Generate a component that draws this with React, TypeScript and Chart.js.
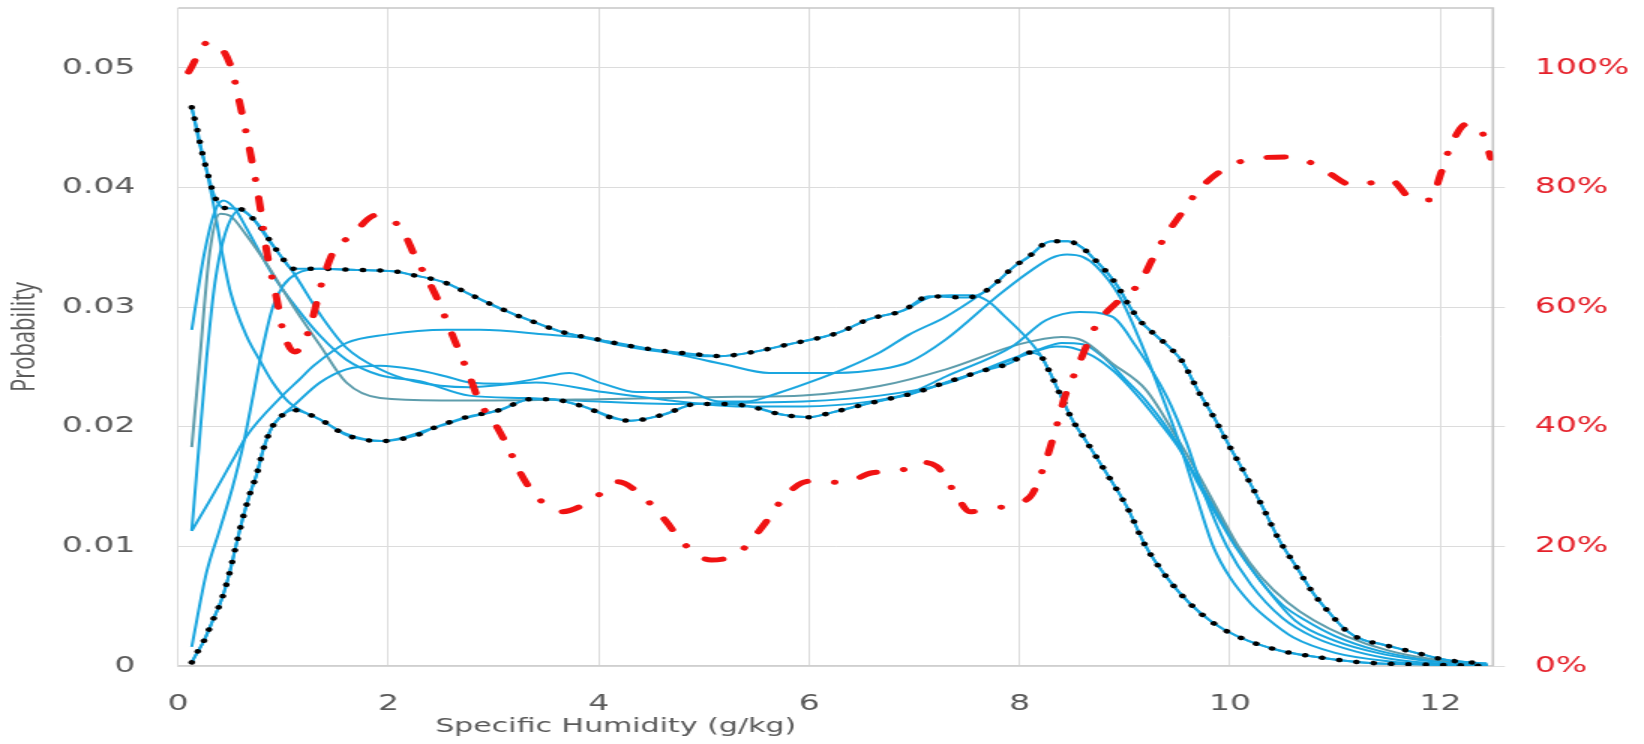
import { useEffect, useRef } from "react";
import { Chart, registerables } from "chart.js";

Chart.register(...registerables);

// ---------- data (x = specific humidity g/kg, y = probability) ----------
const C1_X = [0.13,0.2,0.26,0.3,0.35,0.42,0.5,0.65,0.78,0.9,1.06,1.35,1.6,1.94,2.43,2.77,3.06,3.35,3.53,3.85,4.3,4.61,4.93,5.24,5.5,5.75,6.0,6.22,6.54,6.99,7.3,7.62,7.93,8.15,8.35,8.5,8.7,8.9,9.1,9.3,9.5,9.7,9.9,10.1,10.3,10.5,10.72,11.0,11.4,11.8,12.2,12.45];
const C1_Y = [0.0467,0.0438,0.0418,0.0402,0.0380,0.0345,0.0312,0.0276,0.0255,0.0237,0.0220,0.0206,0.0194,0.0188,0.0199,0.0208,0.0214,0.0223,0.0223,0.0217,0.0205,0.0210,0.0219,0.0219,0.0216,0.0210,0.0208,0.0212,0.0219,0.0228,0.0237,0.0246,0.0256,0.0263,0.0267,0.0266,0.0259,0.0246,0.0228,0.0207,0.0184,0.0155,0.0125,0.0095,0.0070,0.0051,0.0038,0.0025,0.0013,0.0006,0.0002,0.0001];

const C2_X = [0.13,0.25,0.35,0.43,0.55,0.65,0.9,1.13,1.35,1.6,1.92,2.3,2.77,3.3,4.0,4.67,5.3,5.94,6.67,7.3,7.9,8.2,8.4,8.6,8.8,9.0,9.2,9.5,9.7,9.9,10.05,10.3,10.62,11.0,11.4,11.8,12.2,12.45];
const C2_Y = [0.0281,0.0345,0.0380,0.0389,0.0381,0.0366,0.0327,0.0299,0.0276,0.0256,0.0243,0.0238,0.0226,0.0224,0.0221,0.0219,0.0220,0.0221,0.0226,0.0236,0.0256,0.0265,0.0270,0.0269,0.0258,0.0240,0.0222,0.0186,0.0152,0.0122,0.0100,0.0070,0.0038,0.0021,0.0011,0.0005,0.0002,0.0001];

const C3_X = [0.13,0.2,0.3,0.4,0.5,0.65,0.85,1.1,1.35,1.6,1.92,2.5,3.0,4.0,4.67,5.3,5.94,6.67,7.3,8.0,8.4,8.6,8.88,9.2,9.5,9.7,9.9,10.08,10.3,10.55,10.8,11.1,11.5,11.9,12.45];
const C3_Y = [0.0183,0.0250,0.0345,0.0378,0.0376,0.0360,0.0335,0.0300,0.0268,0.0237,0.0224,0.0222,0.0222,0.0223,0.0224,0.0225,0.0226,0.0234,0.0248,0.0269,0.0275,0.0272,0.0253,0.0231,0.0190,0.0160,0.0128,0.0100,0.0074,0.0053,0.0038,0.0025,0.0013,0.0006,0.0001];

const C4_X = [0.13,0.2,0.27,0.35,0.45,0.59,0.7,0.86,1.0,1.08,1.35,1.6,1.92,2.24,2.77,3.4,4.04,4.67,5.31,5.94,6.57,6.95,7.3,7.93,8.25,8.57,8.88,9.1,9.4,9.59,9.75,9.97,10.2,10.5,10.8,11.2,11.6,12.0,12.45];
const C4_Y = [0.0113,0.0185,0.0256,0.0320,0.0362,0.0381,0.0375,0.0356,0.0340,0.0331,0.0294,0.0266,0.0248,0.0238,0.0233,0.0237,0.0229,0.0222,0.0217,0.0217,0.0221,0.0228,0.0242,0.0267,0.0289,0.0296,0.0292,0.0268,0.0225,0.0186,0.0145,0.0100,0.0068,0.0040,0.0024,0.0012,0.0005,0.0002,0.0001];

const C5_X = [0.13,0.3,0.52,0.65,0.97,1.16,1.29,1.6,1.98,2.55,2.87,3.5,3.97,4.36,4.83,5.2,5.62,6.26,6.67,6.95,7.3,7.8,8.1,8.3,8.45,8.6,8.73,8.95,9.14,9.33,9.52,9.68,9.84,10.0,10.2,10.35,10.6,11.0,11.5,12.0,12.45];
const C5_Y = [0.0113,0.0138,0.0172,0.0192,0.0224,0.0240,0.0251,0.0270,0.0277,0.0281,0.0281,0.0277,0.0273,0.0267,0.0259,0.0252,0.0245,0.0245,0.0248,0.0254,0.0273,0.0310,0.0330,0.0341,0.0344,0.0342,0.0334,0.0309,0.0273,0.0231,0.0186,0.0142,0.0100,0.0074,0.0052,0.0040,0.0024,0.0011,0.0004,0.0001,0.0];

const C6_X = [0.13,0.27,0.4,0.52,0.62,0.7,0.78,0.9,1.0,1.13,1.35,1.7,2.05,2.22,2.52,2.79,3.06,3.37,3.66,3.99,4.33,4.65,4.99,5.15,5.5,5.81,6.13,6.29,6.57,6.89,7.14,7.35,7.55,7.7,7.85,8.07,8.19,8.29,8.38,8.5,8.64,8.82,9.02,9.2,9.4,9.61,9.84,10.09,10.47,10.79,11.26,12.0,12.45];
const C6_Y = [0.0016,0.0078,0.0115,0.0150,0.0185,0.0220,0.0256,0.0300,0.0318,0.0328,0.0332,0.0331,0.0330,0.0327,0.0321,0.0310,0.0299,0.0288,0.0279,0.0272,0.0266,0.0262,0.0259,0.0259,0.0263,0.0269,0.0275,0.0279,0.0290,0.0297,0.0308,0.0310,0.0310,0.0305,0.0293,0.0274,0.0261,0.0245,0.0228,0.0206,0.0187,0.0162,0.0133,0.0100,0.0074,0.0053,0.0036,0.0024,0.0013,0.0008,0.0003,0.0001,0.0];

const C7_X = [0.13,0.18,0.24,0.33,0.42,0.49,0.56,0.62,0.68,0.75,0.81,0.89,0.97,1.09,1.35,1.6,1.92,2.24,2.55,2.77,3.09,3.4,3.72,4.04,4.36,4.83,5.15,5.4,5.7,6.0,6.35,6.67,6.95,7.3,7.62,7.76,7.95,8.07,8.3,8.46,8.59,8.7,8.86,8.95,9.05,9.14,9.3,9.43,9.55,9.71,9.84,10.0,10.16,10.31,10.47,10.63,10.79,10.95,11.1,11.26,11.45,11.77,12.06,12.44];
const C7_Y = [0.0003,0.0011,0.0020,0.0038,0.0057,0.0078,0.0104,0.0125,0.0143,0.0161,0.0181,0.0199,0.0208,0.0217,0.0237,0.0248,0.0251,0.0248,0.0242,0.0237,0.0236,0.0240,0.0245,0.0236,0.0229,0.0229,0.0221,0.0221,0.0228,0.0237,0.0249,0.0262,0.0277,0.0292,0.0310,0.0319,0.0334,0.0341,0.0355,0.0355,0.0350,0.0341,0.0326,0.0315,0.0300,0.0289,0.0276,0.0266,0.0254,0.0228,0.0209,0.0183,0.0158,0.0133,0.0105,0.0083,0.0061,0.0044,0.0030,0.0022,0.0018,0.0011,0.0005,0.0002];

// upper envelope (black dotted)
const MAX_X = [0.13,0.18,0.23,0.29,0.35,0.43,0.59,0.7,0.8,0.87,1.0,1.08,1.35,1.7,2.05,2.22,2.52,2.79,3.06,3.37,3.66,3.99,4.33,4.65,4.99,5.15,5.5,5.81,6.13,6.29,6.57,6.89,7.14,7.5,7.65,7.76,7.95,8.07,8.3,8.46,8.59,8.7,8.86,8.95,9.05,9.14,9.3,9.43,9.55,9.71,9.84,10.0,10.16,10.31,10.47,10.63,10.79,10.95,11.1,11.26,11.45,11.77,12.06,12.44];
const MAX_Y = [0.0467,0.0449,0.0429,0.0409,0.0392,0.0383,0.0382,0.0375,0.0365,0.0356,0.0340,0.0332,0.0332,0.0331,0.0330,0.0327,0.0321,0.0310,0.0299,0.0288,0.0279,0.0273,0.0267,0.0263,0.0260,0.0259,0.0263,0.0269,0.0275,0.0279,0.0290,0.0297,0.0309,0.0308,0.0312,0.0319,0.0334,0.0341,0.0355,0.0355,0.0350,0.0341,0.0326,0.0315,0.0300,0.0289,0.0276,0.0266,0.0254,0.0228,0.0209,0.0183,0.0158,0.0133,0.0105,0.0083,0.0061,0.0044,0.0030,0.0022,0.0018,0.0011,0.0005,0.0002];

// lower envelope (black dotted)
const MIN_X = [0.13,0.18,0.24,0.33,0.42,0.49,0.56,0.62,0.68,0.75,0.81,0.89,0.97,1.09,1.35,1.6,1.94,2.27,2.43,2.74,3.06,3.35,3.53,3.85,4.14,4.3,4.61,4.93,5.24,5.43,5.75,6.0,6.22,6.54,6.74,6.99,7.3,7.62,7.93,8.07,8.19,8.29,8.38,8.5,8.64,8.82,9.02,9.2,9.4,9.61,9.84,10.09,10.47,10.79,11.26,12.0,12.44];
const MIN_Y = [0.0003,0.0011,0.0020,0.0038,0.0057,0.0078,0.0104,0.0125,0.0143,0.0161,0.0181,0.0199,0.0208,0.0214,0.0206,0.0193,0.0188,0.0193,0.0199,0.0208,0.0214,0.0223,0.0223,0.0217,0.0207,0.0205,0.0210,0.0219,0.0219,0.0217,0.0210,0.0208,0.0212,0.0219,0.0223,0.0228,0.0237,0.0246,0.0254,0.0262,0.0260,0.0245,0.0228,0.0206,0.0187,0.0162,0.0133,0.0100,0.0074,0.0053,0.0036,0.0024,0.0013,0.0008,0.0003,0.0001,0.0];

// red dash-dot line (right axis, %)
const PCT_X = [0.1,0.29,0.49,0.6,0.7,0.78,0.84,0.94,1.0,1.11,1.24,1.37,1.47,1.65,1.89,2.13,2.25,2.47,2.58,2.68,2.77,2.87,3.01,3.15,3.25,3.41,3.65,3.94,4.18,4.45,4.63,4.8,5.07,5.34,5.56,5.72,5.93,6.1,6.32,6.6,6.89,7.02,7.21,7.37,7.53,7.76,8.1,8.22,8.35,8.43,8.54,8.73,8.92,9.14,9.26,9.38,9.54,9.69,9.92,10.25,10.61,10.92,11.18,11.52,11.73,11.9,12.01,12.09,12.25,12.4,12.48];
const PCT_Y = [99.3,104.3,100.8,93,84.6,76.8,69.6,61.2,55.9,52.5,55.9,64.2,69,72,75.4,72.9,68.6,61.2,56.5,52.3,48.5,44,40.6,36.1,32.4,28.3,25.8,27.8,30.8,27.8,24.4,20.6,17.7,19.1,23.4,27.3,30.6,31.0,30.6,32.3,32.8,34.1,33.4,29.4,25.8,26.4,28.3,32.8,40,45,49.5,57,60.7,64,67.9,71.7,75.7,79.3,82.8,84.9,85.1,82.6,80.3,81.3,78.1,77.9,82.6,86.6,90.6,89.1,84.9];

const X_TITLE = "Specific Humidity (g/kg)";
const Y_TITLE = "Probability";

// ---------- style ----------
const CYAN = "#1aa6df";
const GRAYTEAL = "#5e9dac";
const RED = "#f01212";
const TICK_GRAY = "#595959";
const GRID = "#dcdcdc";

const INTERNAL_W = 1096; // drawn narrower, displayed stretched like the reference
const H = 744;

const pts = (xs: number[], ys: number[]) => xs.map((x, i) => ({ x, y: ys[i] }));

const framePlugin = {
  id: "frameAndXTitle",
  beforeDatasetsDraw(chart: any) {
    const { ctx, chartArea: a } = chart;
    ctx.save();
    ctx.strokeStyle = "#c6c6c6";
    ctx.lineWidth = 1.6;
    ctx.beginPath();
    ctx.moveTo(a.left, a.top);
    ctx.lineTo(a.right, a.top);
    ctx.lineTo(a.right, a.bottom);
    ctx.stroke();
    ctx.restore();
  },
  afterDraw(chart: any) {
    const { ctx } = chart;
    ctx.save();
    ctx.fillStyle = TICK_GRAY;
    ctx.font = '20px "DejaVu Sans"';
    ctx.textAlign = "center";
    ctx.textBaseline = "middle";
    const cx = chart.scales.x.getPixelForValue(4.16);
    ctx.fillText(X_TITLE, cx, chart.height - 17);
    ctx.restore();
  },
};

export default function App() {
  const ref = useRef<HTMLCanvasElement>(null);

  useEffect(() => {
    const canvas = ref.current;
    if (!canvas) return;

    const cyan = (data: any[], color = CYAN) => ({
      data,
      borderColor: color,
      backgroundColor: color,
      borderWidth: 2,
      pointRadius: 0,
      fill: false,
      cubicInterpolationMode: "monotone",
      yAxisID: "y",
    });
    const dots = (data: any[]) => ({
      data,
      borderColor: "#000000",
      backgroundColor: "#000000",
      borderWidth: 4.5,
      borderDash: [0.1, 11.5],
      borderCapStyle: "round",
      pointRadius: 0,
      fill: false,
      cubicInterpolationMode: "monotone",
      yAxisID: "y",
    });

    const chart = new Chart(canvas, {
      type: "line",
      data: {
        datasets: [
          {
            data: pts(PCT_X, PCT_Y),
            borderColor: RED,
            backgroundColor: RED,
            borderWidth: 5,
            borderDash: [12, 18.5, 0.1, 18.5],
            borderCapStyle: "round",
            pointRadius: 0,
            fill: false,
            cubicInterpolationMode: "monotone",
            yAxisID: "y1",
          } as any,
          dots(pts(MAX_X, MAX_Y)),
          dots(pts(MIN_X, MIN_Y)),
          cyan(pts(MAX_X, MAX_Y)),
          cyan(pts(MIN_X, MIN_Y)),
          cyan(pts(C7_X, C7_Y)),
          cyan(pts(C6_X, C6_Y)),
          cyan(pts(C5_X, C5_Y)),
          cyan(pts(C4_X, C4_Y)),
          cyan(pts(C3_X, C3_Y), GRAYTEAL),
          cyan(pts(C2_X, C2_Y)),
          cyan(pts(C1_X, C1_Y)),
        ] as any,
      },
      options: {
        responsive: false,
        animation: false,
        devicePixelRatio: 1,
        layout: { padding: { top: 8, left: 0, right: 0, bottom: 0 } },
        plugins: {
          legend: { display: false },
          tooltip: { enabled: false },
        },
        scales: {
          x: {
            type: "linear",
            min: 0,
            max: 12.5,
            afterFit: (s: any) => {
              s.height = H - 666;
              s.paddingLeft = 0;
              s.paddingRight = 0;
            },
            ticks: {
              stepSize: 2,
              includeBounds: false,
              autoSkip: false,
              maxRotation: 0,
              padding: 25,
              color: TICK_GRAY,
              font: { family: "DejaVu Sans", size: 22 },
            },
            grid: { color: GRID, lineWidth: 1, drawTicks: false },
            border: { display: true, color: "#cfcfcf", width: 1.6 },
          },
          y: {
            type: "linear",
            position: "left",
            min: 0,
            max: 0.055,
            afterFit: (s: any) => {
              s.width = 118.7;
              s.paddingTop = 0;
              s.paddingBottom = 0;
            },
            ticks: {
              stepSize: 0.01,
              includeBounds: false,
              padding: 28.5,
              color: TICK_GRAY,
              font: { family: "DejaVu Sans", size: 22 },
              callback: (v: any) => {
                const n = Math.round(Number(v) * 1000) / 1000;
                return n === 0 ? "0" : n.toFixed(2);
              },
            },
            grid: { color: GRID, lineWidth: 1, drawTicks: false },
            border: { display: true, color: GRID, width: 1 },
            title: {
              display: true,
              text: Y_TITLE,
              color: TICK_GRAY,
              font: { family: "Open Sans", size: 22 },
              padding: { top: 4, bottom: 0 },
            },
          },
          y1: {
            type: "linear",
            position: "right",
            min: 0,
            max: 110,
            afterFit: (s: any) => {
              s.width = INTERNAL_W - 995.3;
              s.paddingTop = 0;
              s.paddingBottom = 0;
            },
            ticks: {
              stepSize: 20,
              includeBounds: false,
              padding: 20,
              color: "#e5202a",
              font: { family: "DejaVu Sans", size: 22 },
              callback: (v: any) => `${Math.round(Number(v))}%`,
            },
            grid: {
              drawOnChartArea: false,
              drawTicks: true,
              tickLength: 8,
              tickColor: GRID,
              color: GRID,
            },
            border: { display: false },
          },
        },
      } as any,
      plugins: [framePlugin as any],
    });

    return () => chart.destroy();
  }, []);

  return (
    <div
      style={{
        position: "fixed",
        left: 0,
        top: 0,
        width: 1644,
        height: H,
        background: "#ffffff",
      }}
    >
      <canvas
        ref={ref}
        width={INTERNAL_W}
        height={H}
        style={{ width: "1644px", height: `${H}px`, display: "block" }}
      />
    </div>
  );
}
